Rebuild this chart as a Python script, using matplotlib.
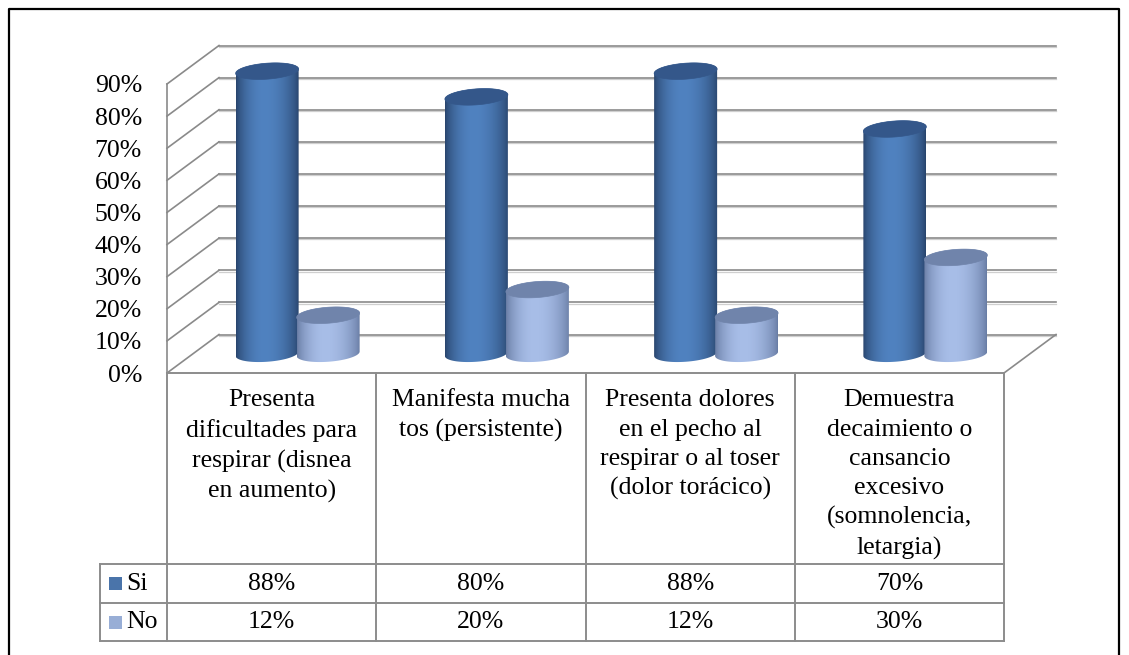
import numpy as np
import matplotlib.pyplot as plt
from matplotlib import font_manager
from matplotlib.patches import Polygon, Rectangle

# Chart data
categories = [
    "Presenta\ndificultades para\nrespirar (disnea\nen aumento)",
    "Manifesta mucha\ntos (persistente)",
    "Presenta dolores\nen el pecho al\nrespirar o al toser\n(dolor torácico)",
    "Demuestra\ndecaimiento o\ncansancio\nexcesivo\n(somnolencia,\nletargia)",
]
series_names = ["Si", "No"]
si_values = [88, 80, 88, 70]
no_values = [12, 20, 12, 30]
y_ticks = [0, 10, 20, 30, 40, 50, 60, 70, 80, 90]

# Layout in pixels (figure is 1129 x 655 at 100 dpi)
W, H = 1129, 655
X0, X1 = 167, 1004          # front edge of the floor / table columns
Y0 = 373                    # 0% on the front plane
PPP = 289 / 90              # pixels per percent
COLW = (X1 - X0) / len(categories)
DEPTH_X, DEPTH_Y = 52, 38.5  # 3D depth offset
ROW_HEAD, ROW_SI, ROW_NO = 564, 603, 641
LEG_X = 100

FS = 18.5
GRID = "#8a8a8a"
TABLE = "#8c8c8c"

body_colors = [((40, 68, 108), (80, 130, 192)), ((104, 124, 164), (168, 190, 232))]
top_colors = ["#34578a", "#7084ab"]
key_colors = ["#4a74aa", "#98aed6"]


def serif_font():
    # prefer a Times-like face, found by file name
    files = font_manager.findSystemFonts()
    for key in ("LiberationSerif-Regular", "Tinos-Regular", "Times"):
        for f in files:
            if key.lower() in f.lower():
                return font_manager.FontProperties(fname=f, size=FS)
    return font_manager.FontProperties(family="DejaVu Serif", size=FS)


FP = serif_font()


def xv(px):
    return (px - X0) / COLW - 0.5


def yv(py):
    return (Y0 - py) / PPP


def dx(px):
    return px / COLW


def dy(px):
    return px / PPP


DX, DY = dx(DEPTH_X), dy(DEPTH_Y)

fig = plt.figure(figsize=(W / 100, H / 100), dpi=100)
ax = fig.add_axes([0, 0, 1, 1])
ax.axis("off")

# Back wall gridlines, side wall diagonals, floor
xl, xr = xv(X0), xv(X1)
ymax = max(y_ticks)
for v in y_ticks:
    ax.plot([xl + DX, xr + DX], [v + DY - dy(1.3), v + DY - dy(1.3)], color="#cfcfcf", lw=0.9, zorder=1)
    ax.plot([xl + DX, xr + DX], [v + DY, v + DY], color=GRID, lw=1.2, zorder=1)
    ax.plot([xl, xl + DX], [v, v + DY], color=GRID, lw=1.2, zorder=1)
ax.plot([xl, xl], [0, ymax], color=GRID, lw=1.2, zorder=1)
ax.plot([xr, xr + DX], [0, DY], color=GRID, lw=1.2, zorder=1)

# Y tick labels
for v in y_ticks:
    ax.text(xv(142), v - dy(2.5), f"{v}%", ha="right", va="center",
            fontproperties=FP, color="black")


def shade_profile(n=80):
    u = np.linspace(0, 1, n)
    t = np.where(u < 0.45, (u - 0.45) / 0.45, (u - 0.45) / 0.55)
    return np.clip(np.cos(t * np.pi / 2), 0, 1) ** 0.7


def cylinder(cx, value, k):
    a, b, s = dx(31.5), dy(8), dy(2.2)
    cy0, cy1 = DY / 2, value + DY / 2
    t1 = np.linspace(np.pi, 2 * np.pi, 60)
    t2 = np.linspace(0, np.pi, 60)
    xs = np.concatenate([cx + a * np.cos(t1), cx + a * np.cos(t2)])
    ys = np.concatenate([cy0 + b * np.sin(t1) + s * np.cos(t1),
                         cy1 + b * np.sin(t2) + s * np.cos(t2)])
    body = Polygon(np.column_stack([xs, ys]), closed=True, facecolor="none",
                   edgecolor="none", zorder=3)
    ax.add_patch(body)

    dark, light = (np.array(c) / 255 for c in body_colors[k])
    g = shade_profile()[:, None]
    img = (dark + (light - dark) * g)[None, :, :]
    im = ax.imshow(img, extent=[cx - a, cx + a, cy0 - b - s, cy1 + b + s],
                   aspect="auto", interpolation="bilinear", zorder=3)
    im.set_clip_path(body)

    t = np.linspace(0, 2 * np.pi, 120)
    top = Polygon(np.column_stack([cx + a * np.cos(t),
                                   cy1 + b * np.sin(t) + s * np.cos(t)]),
                  closed=True, facecolor=top_colors[k], edgecolor=top_colors[k],
                  lw=0.5, zorder=4)
    ax.add_patch(top)


for i in range(len(categories)):
    for k, vals in enumerate([si_values, no_values]):
        cx = i + (k - 0.5) * dx(61) + DX / 2
        cylinder(cx, vals[i], k)

# Data table
tl = dict(color=TABLE, lw=1.4, zorder=2, solid_capstyle="projecting")
yh, ys_, yn = yv(ROW_HEAD), yv(ROW_SI), yv(ROW_NO)
ax.plot([xl, xr], [0, 0], **tl)
for yy in (yh, ys_, yn):
    ax.plot([xv(LEG_X), xr], [yy, yy], **tl)
ax.plot([xv(LEG_X), xv(LEG_X)], [yh, yn], **tl)
for i in range(len(categories) + 1):
    xx = xv(X0 + i * COLW)
    ax.plot([xx, xx], [0, yn], **tl)

for i, label in enumerate(categories):
    ax.text(i, yv(389.5), label, ha="center", va="top", fontproperties=FP,
            linespacing=1.42)
    ax.text(i, (yh + ys_) / 2, f"{si_values[i]}%", ha="center", va="center",
            fontproperties=FP)
    ax.text(i, (ys_ + yn) / 2, f"{no_values[i]}%", ha="center", va="center",
            fontproperties=FP)

for k, (name, y_top, y_bot) in enumerate([("Si", ROW_HEAD, ROW_SI), ("No", ROW_SI, ROW_NO)]):
    yc = (y_top + y_bot) / 2
    ax.add_patch(Rectangle((xv(109), yv(yc + 6.5)), dx(13), dy(13),
                           facecolor=key_colors[k], edgecolor="none", zorder=3))
    ax.text(xv(126), yv(yc), name, ha="left", va="center", fontproperties=FP)

# Outer chart border
ax.plot([xv(9), xv(9), xv(1119), xv(1119)], [yv(H + 5), yv(9), yv(9), yv(H + 5)],
        color="black", lw=1.6, zorder=5)

ax.set_xlim(xv(0), xv(W))
ax.set_ylim(yv(H), yv(0))

fig.savefig("out.png", dpi=100, facecolor="white")
